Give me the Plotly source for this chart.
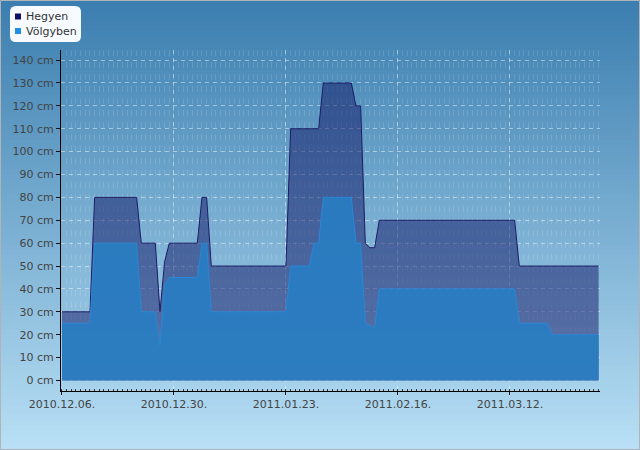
import plotly.graph_objects as go
import pandas as pd

# ---------------- data ----------------
dates = pd.date_range("2010-12-06", "2011-03-31", freq="D")

hegyen = ([30] * 7 + [80] * 10 + [60] * 4 + [30, 52] + [60] * 7 + [80] * 2 +
          [50] * 17 + [110] * 7 + [130] * 7 + [120] * 2 + [60] + [58] * 2 +
          [70] * 30 + [50] * 18)

volgyben = ([25] * 7 + [60] * 10 + [30] * 4 + [15, 42] + [45] * 7 + [60] * 2 +
            [30] * 17 + [50] * 5 + [60] * 2 + [80] * 7 + [60] * 2 + [25, 24, 23] +
            [40] * 30 + [25] * 7 + [20] * 11)

x_tick_vals = ["2010-12-06", "2010-12-30", "2011-01-23", "2011-02-16", "2011-03-12"]
x_tick_text = ["2010.12.06.", "2010.12.30.", "2011.01.23.", "2011.02.16.", "2011.03.12."]
y_tick_vals = [0, 10, 20, 30, 40, 50, 60, 70, 80, 90, 100, 110, 120, 130, 140]
y_tick_text = [f"{v} cm" for v in y_tick_vals]

series_names = ["Hegyen", "Völgyben"]

# ---------------- layout geometry ----------------
W, H = 640, 450
L, R, T, B = 61, 40, 50, 59
PW, PH = W - L - R, H - T - B

def px(xp):
    return (xp - L) / PW

def py(yp):
    return (H - B - yp) / PH

FONT = "DejaVu Sans"

fig = go.Figure()

fig.add_trace(go.Scatter(
    x=dates, y=hegyen, name=series_names[0], mode="lines",
    line=dict(color="#1c1c66", width=1), fill="tozeroy",
    fillcolor="rgba(15,20,100,0.5)", showlegend=False, hoverinfo="skip"))
fig.add_trace(go.Scatter(
    x=dates, y=volgyben, name=series_names[1], mode="lines",
    line=dict(color="#2a86d6", width=1), fill="tozeroy",
    fillcolor="rgba(40,125,195,0.9)", showlegend=False, hoverinfo="skip"))

shapes = []
# background gradient
top = (59, 126, 175)
bot = (184, 223, 245)
N = 90
for i in range(N):
    t = i / (N - 1)
    c = tuple(round(top[k] + (bot[k] - top[k]) * t) for k in range(3))
    y0p = i * H / N
    y1p = (i + 1) * H / N + 0.6
    shapes.append(dict(type="rect", xref="paper", yref="paper", layer="below",
                       x0=px(0), x1=px(W), y0=py(y1p), y1=py(y0p),
                       line=dict(width=0), fillcolor="rgb(%d,%d,%d)" % c))
# outer border
shapes.append(dict(type="rect", xref="paper", yref="paper", layer="above",
                   x0=px(0.5), x1=px(W - 0.5), y0=py(H - 0.5), y1=py(0.5),
                   line=dict(width=1, color="#b0b4b8"), fillcolor="rgba(0,0,0,0)"))

# legend box (rounded)
lx0, lx1, ly0, ly1, r = 10, 81, 6, 42, 6
path = (f"M {px(lx0 + r)} {py(ly0)} L {px(lx1 - r)} {py(ly0)} "
        f"Q {px(lx1)} {py(ly0)} {px(lx1)} {py(ly0 + r)} "
        f"L {px(lx1)} {py(ly1 - r)} Q {px(lx1)} {py(ly1)} {px(lx1 - r)} {py(ly1)} "
        f"L {px(lx0 + r)} {py(ly1)} Q {px(lx0)} {py(ly1)} {px(lx0)} {py(ly1 - r)} "
        f"L {px(lx0)} {py(ly0 + r)} Q {px(lx0)} {py(ly0)} {px(lx0 + r)} {py(ly0)} Z")
shapes.append(dict(type="path", xref="paper", yref="paper", layer="above", path=path,
                   fillcolor="#f7fbff", line=dict(width=0)))
marker_cols = ["#0e0e62", "#1f8fe0"]
marker_y = [16.5, 31]
for col, my in zip(marker_cols, marker_y):
    shapes.append(dict(type="rect", xref="paper", yref="paper", layer="above",
                       x0=px(15), x1=px(21), y0=py(my + 3), y1=py(my - 3),
                       fillcolor=col, line=dict(width=0)))

annotations = []
for name, my in zip(series_names, marker_y):
    annotations.append(dict(text=name, xref="paper", yref="paper", x=px(23.5), y=py(my),
                            xanchor="left", yanchor="middle", showarrow=False,
                            font=dict(family=FONT, size=11, color="#333333")))

fig.update_layout(
    width=W, height=H,
    margin=dict(l=L, r=R, t=T, b=B, pad=0),
    paper_bgcolor="rgb(120,175,210)",
    plot_bgcolor="rgba(0,0,0,0)",
    shapes=shapes, annotations=annotations,
    font=dict(family=FONT, size=11, color="#444444"),
    showlegend=False,
)

fig.update_xaxes(
    type="date",
    range=["2010-12-05 19:00", "2011-03-31 07:00"],
    tickvals=x_tick_vals, ticktext=x_tick_text,
    ticks="outside", ticklen=3, tickcolor="#111111",
    showline=True, linecolor="#000000", linewidth=1,
    showgrid=True, gridcolor="rgba(255,255,255,0.45)", griddash="4px,4px", gridwidth=1,
    tickfont=dict(family=FONT, size=11, color="#444444"),
    zeroline=False,
    minor=dict(dtick=86400000, tick0="2010-12-06", ticks="inside", ticklen=2,
               tickcolor="#333333", showgrid=True,
               gridcolor="rgba(255,255,255,0.13)", griddash="6px,6px", gridwidth=1),
)
fig.update_yaxes(
    range=[-4.6, 144.4],
    tickvals=y_tick_vals, ticktext=y_tick_text,
    ticks="outside", ticklen=4, tickcolor="#111111",
    showline=True, linecolor="#000000", linewidth=1,
    showgrid=True, gridcolor="rgba(255,255,255,0.45)", griddash="4px,4px", gridwidth=1,
    tickfont=dict(family=FONT, size=11, color="#444444"),
    zeroline=False,
)

fig.write_html("out.html")
